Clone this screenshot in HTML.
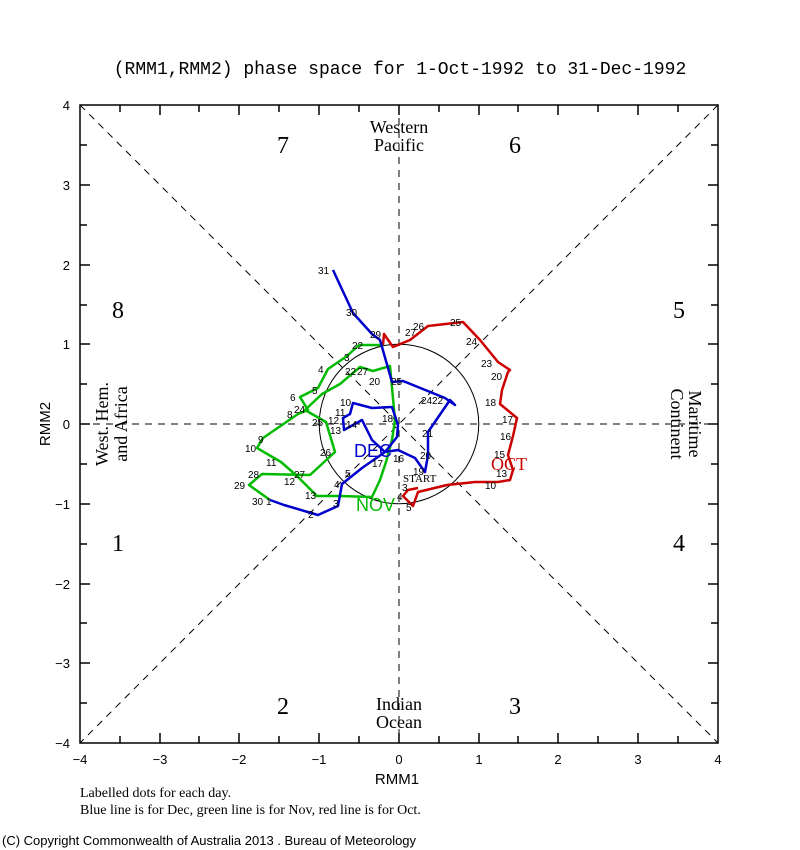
<!DOCTYPE html>
<html><head><meta charset="utf-8"><style>body{margin:0;background:#fff}svg{display:block}</style></head><body>
<svg width="800" height="850" xmlns="http://www.w3.org/2000/svg" font-family="Liberation Sans, sans-serif">
<rect width="800" height="850" fill="#fff"/>
<text x="400" y="74" font-family="Liberation Mono, monospace" font-size="18" text-anchor="middle">(RMM1,RMM2) phase space for  1-Oct-1992 to 31-Dec-1992</text>
<rect x="80" y="105" width="638" height="638" fill="none" stroke="#000" stroke-width="1.5"/>
<g stroke="#000" stroke-width="1" stroke-dasharray="7,6" fill="none">
<line x1="80" y1="105" x2="718" y2="743"/><line x1="718" y1="105" x2="80" y2="743"/>
<line x1="399" y1="105" x2="399" y2="743"/><line x1="80" y1="424" x2="718" y2="424"/>
</g>
<circle cx="399" cy="424" r="79.75" fill="none" stroke="#000" stroke-width="1"/>
<g stroke="#000" stroke-width="1.5">
<path d="M80 185h10M80 265h10M80 344h10M80 424h10M80 504h10M80 584h10M80 663h10
M80 145h7M80 225h7M80 305h7M80 384h7M80 464h7M80 544h7M80 623h7M80 703h7
M718 185h-10M718 265h-10M718 344h-10M718 424h-10M718 504h-10M718 584h-10M718 663h-10
M718 145h-7M718 225h-7M718 305h-7M718 384h-7M718 464h-7M718 544h-7M718 623h-7M718 703h-7
M160 743v-10M239 743v-10M319 743v-10M399 743v-10M479 743v-10M558 743v-10M638 743v-10
M120 743v-7M199 743v-7M279 743v-7M359 743v-7M439 743v-7M518 743v-7M598 743v-7M678 743v-7
M160 105v10M239 105v10M319 105v10M399 105v10M479 105v10M558 105v10M638 105v10
M120 105v7M199 105v7M279 105v7M359 105v7M439 105v7M518 105v7M598 105v7M678 105v7"/>
</g>
<g font-size="13" text-anchor="end">
<text x="70" y="110">4</text><text x="70" y="190">3</text><text x="70" y="270">2</text><text x="70" y="349">1</text><text x="70" y="429">0</text><text x="70" y="509">−1</text><text x="70" y="589">−2</text><text x="70" y="668">−3</text><text x="70" y="748">−4</text>
</g>
<g font-size="13" text-anchor="middle">
<text x="80" y="764">−4</text><text x="160" y="764">−3</text><text x="239" y="764">−2</text><text x="319" y="764">−1</text><text x="399" y="764">0</text><text x="479" y="764">1</text><text x="558" y="764">2</text><text x="638" y="764">3</text><text x="718" y="764">4</text>
</g>
<text x="397" y="784" font-size="15" text-anchor="middle">RMM1</text>
<text x="50" y="424" font-size="15" text-anchor="middle" transform="rotate(-90 50 424)">RMM2</text>
<g font-family="Liberation Serif, serif" font-size="24" text-anchor="middle">
<text x="283" y="153">7</text><text x="515" y="153">6</text><text x="118" y="318">8</text><text x="679" y="318">5</text>
<text x="118" y="551">1</text><text x="679" y="551">4</text><text x="283" y="714">2</text><text x="515" y="714">3</text>
</g>
<g font-family="Liberation Serif, serif" font-size="18" text-anchor="middle">
<text x="399" y="133">Western</text><text x="399" y="151">Pacific</text>
<text x="399" y="710">Indian</text><text x="399" y="728">Ocean</text>
<text x="0" y="0" transform="translate(108,424) rotate(-90)">West. Hem.</text>
<text x="0" y="0" transform="translate(127,424) rotate(-90)">and Africa</text>
<text x="0" y="0" transform="translate(689,424) rotate(90)">Maritime</text>
<text x="0" y="0" transform="translate(671,424) rotate(90)">Continent</text>
</g>
<g fill="none" stroke-width="2.5" stroke-linejoin="round">
<polyline stroke="#cc0000" points="418,488 408,490 403,496 413,506 418,492 447,485 475,482 498,482 510,480 513,470 508,455 513,436 517,418 500,404 502,390 508,372 510,370 498,362 480,340 463,322 428,326 410,340 393,347 384,334 383,345"/>
<polyline stroke="#00bb00" points="383,345 359,345 347,356 328,369 318,388 300,397 308,410 298,414 263,438 257,448 281,462 297,476 317,496 340,496 372,497 380,480 386,462 392,440 395,420 390,366 373,371 360,367 340,384 322,394 305,410 326,422 335,452 310,475 262,474 249,485 270,500"/>
<polyline stroke="#0000cc" points="270,500 284,505 318,515 338,506 342,484 362,468 385,452 397,437 398,425 392,407 372,408 353,403 350,414 343,418 344,430 362,420 372,440 385,452 398,450 415,458 425,472 428,455 428,432 450,400 455,405 445,398 403,381 392,382 380,340 372,334 353,313 333,270"/>
</g>
<g font-size="10" fill="#000">
<text x="318" y="274">31</text><text x="346" y="316">30</text><text x="405" y="336">27</text><text x="413" y="330">26</text><text x="450" y="326">25</text><text x="466" y="345">24</text>
<text x="481" y="367">23</text><text x="491" y="380">20</text><text x="485" y="406">18</text><text x="502" y="423">17</text><text x="500" y="440">16</text><text x="494" y="458">15</text><text x="496" y="477">13</text><text x="485" y="489">10</text>
<text x="403" y="482" font-family="Liberation Serif, serif" font-size="11">START</text>
<text x="422" y="437">21</text><text x="420" y="459">20</text><text x="413" y="475">19</text><text x="421" y="404">24</text><text x="432" y="404">22</text>
<text x="369" y="385">20</text><text x="391" y="385">25</text><text x="382" y="422">18</text><text x="372" y="467">17</text><text x="393" y="462">16</text>
<text x="340" y="406">10</text><text x="335" y="416">11</text><text x="328" y="424">12</text><text x="330" y="434">13</text><text x="346" y="428">14</text>
<text x="245" y="452">10</text><text x="258" y="443">9</text><text x="266" y="466">11</text><text x="284" y="485">12</text><text x="305" y="499">13</text>
<text x="248" y="478">28</text><text x="234" y="489">29</text><text x="252" y="505">30</text><text x="294" y="478">27</text><text x="320" y="456">26</text>
<text x="287" y="418">8</text><text x="290" y="401">6</text><text x="294" y="413">24</text><text x="312" y="426">25</text><text x="312" y="394">5</text><text x="318" y="373">4</text>
<text x="344" y="361">3</text><text x="352" y="349">22</text><text x="357" y="375">27</text><text x="345" y="375">22</text><text x="370" y="338">29</text>
<text x="345" y="477">5</text><text x="334" y="488">4</text><text x="333" y="507">3</text><text x="308" y="518">2</text><text x="266" y="505">1</text>
<text x="397" y="500">4</text><text x="406" y="511">5</text><text x="402" y="491">3</text>
</g>
<text x="354" y="457" font-size="18" fill="#0000cc">DEC</text>
<text x="356" y="511" font-size="18" fill="#00bb00">NOV</text>
<text x="491" y="470" font-size="18" fill="#cc0000" font-family="Liberation Serif, serif">OCT</text>
<text x="80" y="797" font-family="Liberation Serif, serif" font-size="14">Labelled dots for each day.</text>
<text x="80" y="814" font-family="Liberation Serif, serif" font-size="14">Blue line is for Dec, green line is for Nov, red line is for Oct.</text>
<text x="2" y="845" font-size="13">(C) Copyright Commonwealth of Australia 2013 . Bureau of Meteorology</text>
</svg>
</body></html>
